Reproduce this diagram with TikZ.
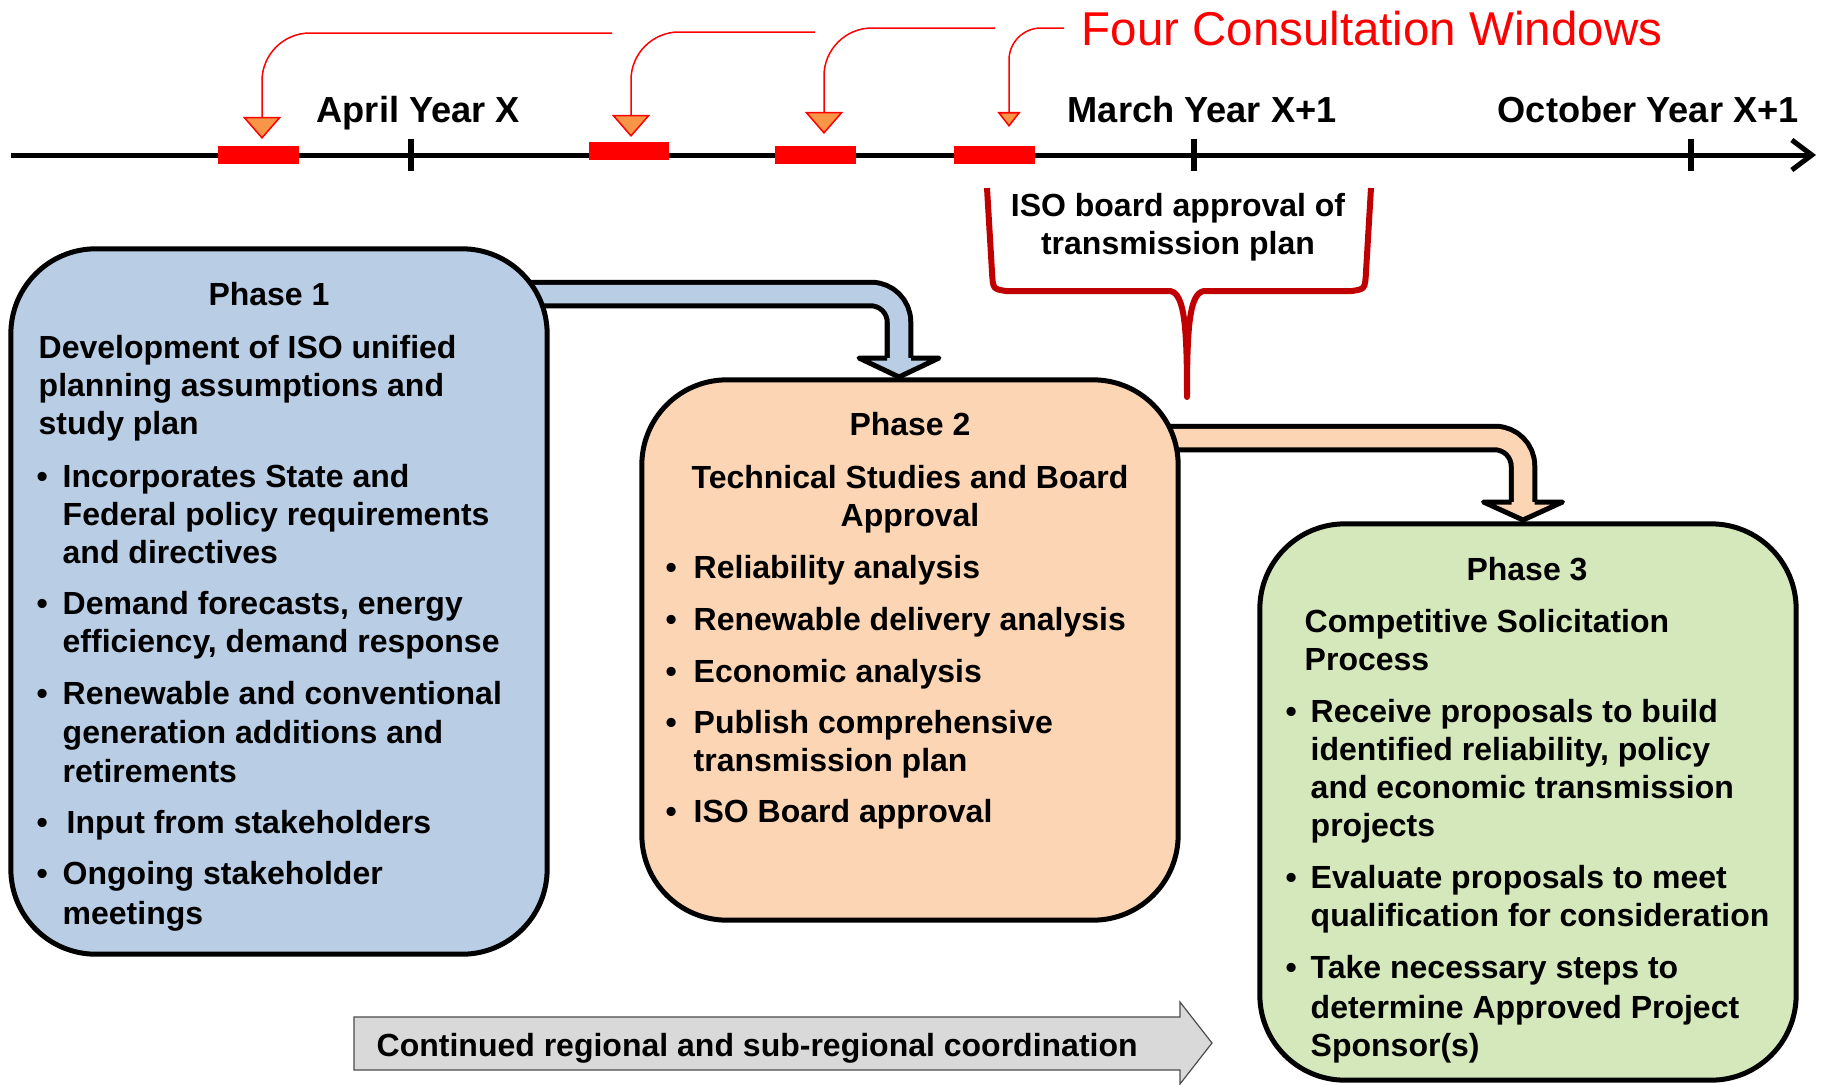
\documentclass[tikz,border=0pt]{standalone}
\usepackage{fontspec}
\setmainfont{Liberation Sans}
\usepackage{tikz}
\usetikzlibrary{arrows.meta, positioning, calc}

\definecolor{phaseblue}{HTML}{B9CDE5}
\definecolor{phasepeach}{HTML}{FCD5B5}
\definecolor{phasegreen}{HTML}{D5E8BC}
\definecolor{tipfill}{HTML}{F79646}
\definecolor{bracered}{HTML}{C00000}
\definecolor{bandgray}{HTML}{D9D9D9}

\newcommand{\bodyfont}{\fontsize{9.1}{11}\selectfont\bfseries}
\newcommand{\datefont}{\fontsize{10.3}{12}\selectfont\bfseries}
\newcommand{\headfont}{\fontsize{13.5}{16}\selectfont}

\tikzset{
	phase/.style={draw, line width=0.05cm, rounded corners=0.85cm, minimum width=5.36cm, inner sep=0},
	txt/.style={font=\bodyfont, anchor=base west, inner sep=0},
	ttl/.style={font=\bodyfont, anchor=base, inner sep=0},
	window/.style={fill=red, minimum width=0.79cm, minimum height=0.16cm, inner sep=0},
	callout/.style={draw=red, line width=0.015cm, rounded corners=0.48cm},
	bent/.style={draw=black, line width=0.05cm, double distance=0.185cm, rounded corners=0.28cm},
	head/.style={draw=black, line width=0.05cm, line join=round}
}

\begin{document}
\begin{tikzpicture}[x=0.01cm, y=-0.01cm]
	\useasboundingbox (0,0) rectangle (1823,1084);

	%consultation windows
	\node[window] (win1) at (258.5,155) {};
	\node[window] (win2) at (629,151) {};
	\node[window] (win3) at (815.5,155) {};
	\node[window] (win4) at (994.5,155) {};

	\foreach \i/\sx/\sy/\tx/\ty in {1/612/33/262/139, 2/815/32/631/137, 3/995/28/824/134}{
		\coordinate (cw\i) at (\sx,\sy);
		\coordinate (tw\i) at (\tx,\ty);
		\draw[callout, -{Triangle[length=0.22cm, width=0.38cm, fill=tipfill]}] (cw\i) -| (tw\i);
	}
	\coordinate (cw4) at (1064,28);
	\coordinate (tw4) at (1009,127);
	\draw[callout, rounded corners=0.32cm, -{Triangle[length=0.15cm, width=0.23cm, fill=tipfill]}] (cw4) -| (tw4);

	\node[font=\headfont, text=red, anchor=base west, inner sep=0] (windows) at (1081,45) {Four Consultation Windows};

	%timeline
	\coordinate (axisstart) at (11,155);
	\coordinate (axisend) at (1816,155);
	\draw[line width=0.05cm, -{Straight Barb[length=0.2cm, width=0.3cm]}] (axisstart) -- (axisend);
	\foreach \tk in {411,1194,1691}
		\draw[line width=0.065cm] (\tk,139) -- (\tk,171);
	\foreach \i/\tk in {1/win1, 2/win2, 3/win3, 4/win4}
		\fill[red] (\tk.south west) rectangle (\tk.north east);

	\node[font=\datefont, anchor=base west, inner sep=0] (april) at (316,122) {April Year X};
	\node[font=\datefont, anchor=base west, inner sep=0] (march) at (1067,122) {March Year X+1};
	\node[font=\datefont, anchor=base west, inner sep=0] (october) at (1497,122) {October Year X+1};

	%board approval
	\draw[bracered, line width=0.06cm, line join=round]
		(987,188) -- (992,272) .. controls (993,289) .. (1006,291) -- (1170,291)
		.. controls (1185,293) and (1187,330) .. (1187,397)
		.. controls (1187,330) and (1189,293) .. (1204,291) -- (1352,291)
		.. controls (1365,289) .. (1366,272) -- (1371,188);
	\node[ttl] (isoboard) at (1178,216) {ISO board approval of};
	\node[ttl] (isoplan) at (1178,254) {transmission plan};

	%arrows between phases
	\coordinate (bluehead) at (899,358);
	\coordinate (peachhead) at (1523,502);
	\draw[bent, double=phaseblue] (279,294) -| (bluehead);
	\draw[head, fill=phaseblue] (bluehead) ++(-12,0) -- ++(-28,0) -- ++(40,19) -- ++(40,-19) -- ++(-28,0);
	\draw[bent, double=phasepeach] (910,438) -| (peachhead);
	\draw[head, fill=phasepeach] (peachhead) ++(-11.5,0) -- ++(-28,0) -- ++(39.5,18) -- ++(39.5,-18) -- ++(-28,0);

	%phases
	\node[phase, fill=phaseblue, minimum height=7.05cm] (phaseone) at (279,601.5) {};
	\node[phase, fill=phasepeach, minimum height=5.40cm] (phasetwo) at (910,650) {};
	\node[phase, fill=phasegreen, minimum height=5.56cm] (phasethree) at (1528,802) {};

	%phase 1 text
	\node[ttl] (pone-t) at (269,305) {Phase 1};
	\foreach \ty/\tx [count=\i] in {358/Development of ISO unified, 396/planning assumptions and, 434/study plan}
		\node[txt] (pone-h\i) at (38,\ty) {\tx};
	\foreach \ty/\tx [count=\i] in {487/Incorporates State and, 525/Federal policy requirements, 563/and directives,
			614/{Demand forecasts, energy}, 652/{efficiency, demand response}, 704/Renewable and conventional,
			743/generation additions and, 782/retirements, 884/Ongoing stakeholder, 924/meetings}
		\node[txt] (pone-b\i) at (62,\ty) {\tx};
	\node[txt] (pone-input) at (66,833) {Input from stakeholders};
	\foreach \ty [count=\i] in {487,614,704,833,884}
		\node[txt] (pone-d\i) at (36,\ty) {\textbullet};

	%phase 2 text
	\node[ttl] (ptwo-t) at (910,435) {Phase 2};
	\node[ttl] (ptwo-h1) at (910,488) {Technical Studies and Board};
	\node[ttl] (ptwo-h2) at (910,526) {Approval};
	\foreach \ty/\tx [count=\i] in {578/Reliability analysis, 630/Renewable delivery analysis, 682/Economic analysis,
			733/Publish comprehensive, 771/transmission plan, 822/ISO Board approval}
		\node[txt] (ptwo-b\i) at (693,\ty) {\tx};
	\foreach \ty [count=\i] in {578,630,682,733,822}
		\node[txt] (ptwo-d\i) at (665,\ty) {\textbullet};

	%phase 3 text
	\node[ttl] (pthree-t) at (1527,580) {Phase 3};
	\node[txt] (pthree-h1) at (1304,632) {Competitive Solicitation};
	\node[txt] (pthree-h2) at (1304,670) {Process};
	\foreach \ty/\tx [count=\i] in {722/Receive proposals to build, 760/{identified reliability, policy}, 798/and economic transmission,
			836/projects, 888/Evaluate proposals to meet, 926/qualification for consideration,
			978/Take necessary steps to, 1018/determine Approved Project, 1056/Sponsor(s)}
		\node[txt] (pthree-b\i) at (1310,\ty) {\tx};
	\foreach \ty [count=\i] in {722,888,978}
		\node[txt] (pthree-d\i) at (1285,\ty) {\textbullet};

	%coordination band
	\draw[draw=black!70, fill=bandgray, line width=0.012cm]
		(354,1017) -- (1180,1017) -- (1180,1002) -- (1212,1043) -- (1180,1084) -- (1180,1070) -- (354,1070) -- cycle;
	\node[txt] (coordination) at (376,1056) {Continued regional and sub-regional coordination};

\end{tikzpicture}
\end{document}
